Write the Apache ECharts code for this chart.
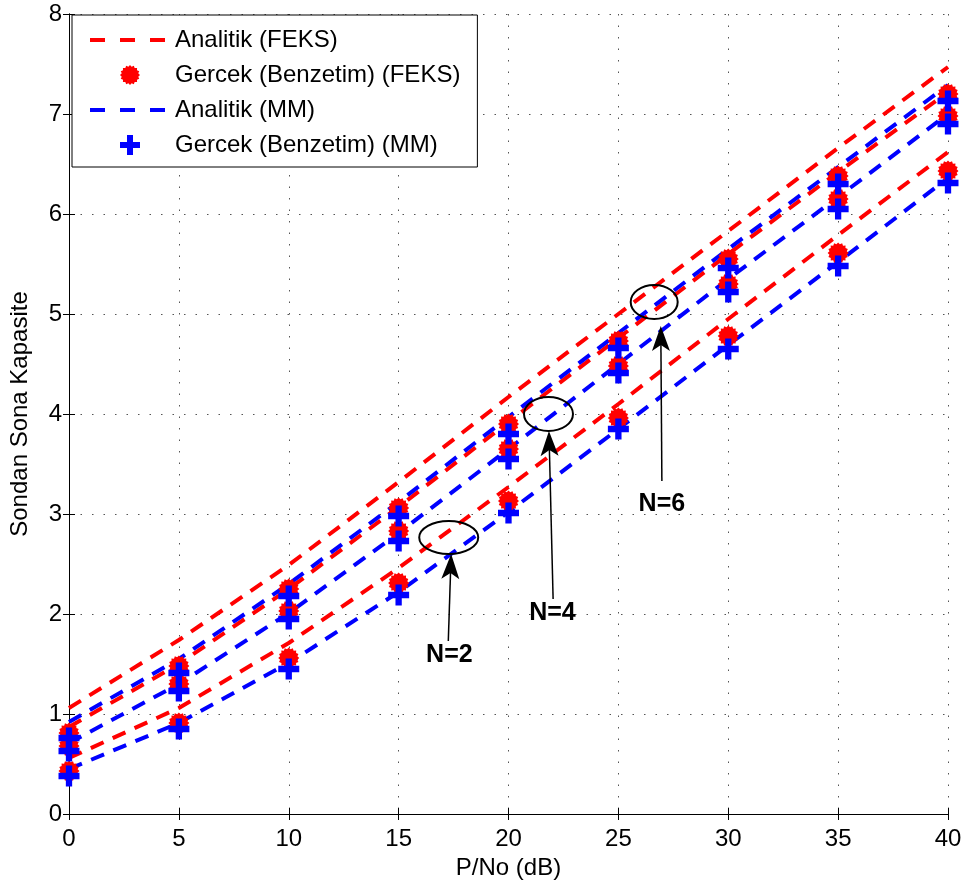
<!DOCTYPE html>
<html><head><meta charset="utf-8">
<script src="https://cdn.jsdelivr.net/npm/echarts@6/dist/echarts.min.js"></script>
<style>html,body{margin:0;padding:0;background:#fff}#c{width:966px;height:886px}</style>
</head><body><div id="c"></div>
<script>
// ---------- data ----------
const xValues = [0, 5, 10, 15, 20, 25, 30, 35, 40];

// Analytic curves
const feksAnalyticN6 = [1.06, 1.74, 2.49, 3.32, 4.17, 5.00, 5.83, 6.66, 7.47];
const feksAnalyticN4 = [0.87, 1.50, 2.25, 3.07, 3.92, 4.76, 5.60, 6.42, 7.22];
const feksAnalyticN2 = [0.56, 1.06, 1.71, 2.46, 3.27, 4.10, 4.95, 5.79, 6.62];
const mmAnalyticN6   = [0.92, 1.55, 2.30, 3.12, 3.97, 4.81, 5.65, 6.47, 7.29];
const mmAnalyticN4   = [0.71, 1.30, 2.01, 2.81, 3.65, 4.50, 5.35, 6.17, 7.00];
const mmAnalyticN2   = [0.45, 0.91, 1.51, 2.22, 3.02, 3.85, 4.69, 5.52, 6.36];

// Simulation points
const feksSimA = [0.81, 1.48, 2.25, 3.06, 3.90, 4.73, 5.55, 6.38, 7.20];
const feksSimB = [0.68, 1.30, 2.03, 2.83, 3.65, 4.48, 5.30, 6.15, 6.98];
const feksSimC = [0.43, 0.91, 1.56, 2.31, 3.13, 3.96, 4.78, 5.61, 6.43];
const mmSimA   = [0.76, 1.41, 2.18, 2.98, 3.80, 4.66, 5.46, 6.30, 7.13];
const mmSimB   = [0.63, 1.23, 1.95, 2.73, 3.55, 4.41, 5.22, 6.05, 6.90];
const mmSimC   = [0.38, 0.85, 1.45, 2.19, 3.01, 3.85, 4.65, 5.48, 6.31];

const legendNames = ['Analitik (FEKS)', 'Gercek (Benzetim) (FEKS)', 'Analitik (MM)', 'Gercek (Benzetim) (MM)'];
const xTicks = [0, 5, 10, 15, 20, 25, 30, 35, 40];
const yTicks = [0, 1, 2, 3, 4, 5, 6, 7, 8];

// Annotations (data coordinates)
const annotations = [
  { label: 'N=2', ellipse: [17.28, 2.765], tip: [17.39, 2.60], tail: [17.26, 1.73], text: [17.31, 1.585], rx: 29.5, ry: 16.5 },
  { label: 'N=4', ellipse: [21.82, 4.00], tip: [21.84, 3.83], tail: [22.03, 2.15], text: [22.00, 2.005], rx: 24.5, ry: 17 },
  { label: 'N=6', ellipse: [26.63, 5.12], tip: [26.93, 4.88], tail: [26.98, 3.33], text: [26.98, 3.10], rx: 23.5, ry: 17 }
];

// ---------- styles ----------
const RED = '#ff0000', BLUE = '#0000ff';
function starPath(n, rOut, rIn) {
  let s = '';
  for (let i = 0; i < 2 * n; i++) {
    const r = i % 2 === 0 ? rOut : rIn;
    const a = Math.PI * i / n - Math.PI / 2;
    s += (i === 0 ? 'M' : 'L') + (50 + r * Math.cos(a)).toFixed(2) + ' ' + (50 + r * Math.sin(a)).toFixed(2) + ' ';
  }
  return 'path://' + s + 'Z';
}
const spikyCircle = starPath(16, 50, 42);
const plusPath = 'path://M35 0 L65 0 L65 35 L100 35 L100 65 L65 65 L65 100 L35 100 L35 65 L0 65 L0 35 L35 35 Z';

function pairs(ys) { return xValues.map((x, i) => [x, ys[i]]); }
function lineSeries(name, color, ys) {
  return {
    name, type: 'line', data: pairs(ys), symbol: 'none', showSymbol: false,
    lineStyle: { color, width: 4, type: [14, 10], cap: 'butt' }, itemStyle: { color },
    animation: false, z: 2
  };
}
function scatterSeries(name, color, symbol, size, ys) {
  return {
    name, type: 'scatter', data: pairs(ys), symbol, symbolSize: size,
    itemStyle: { color, opacity: 1 }, animation: false, z: 3
  };
}

const chart = echarts.init(document.getElementById('c'), null, { renderer: 'canvas' });
const FONT = 'Liberation Sans, Arial, Helvetica, sans-serif';
const axisCommon = {
  min: 0, axisLine: { show: true, lineStyle: { color: '#000', width: 1 } },
  axisTick: { show: true, inside: true, length: 6, lineStyle: { color: '#000' } },
  splitLine: { show: false }
};

chart.setOption({
  backgroundColor: '#fff',
  animation: false,
  grid: { left: 67, right: 18, top: 14, bottom: 72, containLabel: false },
  legend: {
    data: [
      { name: legendNames[0], itemStyle: { opacity: 0 } },
      { name: legendNames[1] },
      { name: legendNames[2], itemStyle: { opacity: 0 } },
      { name: legendNames[3] }
    ],
    orient: 'vertical', left: 72, top: 15,
    padding: [13, 17, 10, 16], itemWidth: 80, itemHeight: 20, itemGap: 11,
    borderColor: '#000', borderWidth: 1, backgroundColor: '#fff',
    textStyle: { fontFamily: FONT, fontSize: 24, color: '#000', lineHeight: 24 },
    lineStyle: { type: [15, 15], width: 4 },
    selectedMode: false
  },
  xAxis: [
    Object.assign({}, axisCommon, {
      type: 'value', max: 40, interval: 5, position: 'bottom',
      name: 'P/No (dB)', nameLocation: 'middle', nameGap: 38,
      nameTextStyle: { fontFamily: FONT, fontSize: 24, color: '#000' },
      axisLabel: { fontFamily: FONT, fontSize: 24, color: '#000', margin: 13 },
      splitLine: { show: true, lineStyle: { color: '#555', width: 1, type: [1.5, 10] } }
    }),
    Object.assign({}, axisCommon, {
      type: 'value', max: 40, interval: 5, position: 'top', axisLabel: { show: false }
    })
  ],
  yAxis: [
    Object.assign({}, axisCommon, {
      type: 'value', max: 8, interval: 1, position: 'left',
      name: 'Sondan Sona Kapasite', nameLocation: 'middle', nameGap: 37,
      nameTextStyle: { fontFamily: FONT, fontSize: 24, color: '#000' },
      axisLabel: { fontFamily: FONT, fontSize: 24, color: '#000', margin: 7 },
      splitLine: { show: true, lineStyle: { color: '#555', width: 1, type: [1.5, 10] } }
    }),
    Object.assign({}, axisCommon, {
      type: 'value', max: 8, interval: 1, position: 'right', axisLabel: { show: false }
    })
  ],
  series: [
    lineSeries(legendNames[0], RED, feksAnalyticN6),
    lineSeries(legendNames[0], RED, feksAnalyticN4),
    lineSeries(legendNames[0], RED, feksAnalyticN2),
    scatterSeries(legendNames[1], RED, spikyCircle, 21, feksSimA),
    scatterSeries(legendNames[1], RED, spikyCircle, 21, feksSimB),
    scatterSeries(legendNames[1], RED, spikyCircle, 21, feksSimC),
    lineSeries(legendNames[2], BLUE, mmAnalyticN6),
    lineSeries(legendNames[2], BLUE, mmAnalyticN4),
    lineSeries(legendNames[2], BLUE, mmAnalyticN2),
    scatterSeries(legendNames[3], BLUE, plusPath, 21, mmSimA),
    scatterSeries(legendNames[3], BLUE, plusPath, 21, mmSimB),
    scatterSeries(legendNames[3], BLUE, plusPath, 21, mmSimC)
  ]
});

// annotation graphics
const graphics = [];
annotations.forEach(a => {
  const c = chart.convertToPixel({ gridIndex: 0 }, a.ellipse);
  const tip = chart.convertToPixel({ gridIndex: 0 }, a.tip);
  const tail = chart.convertToPixel({ gridIndex: 0 }, a.tail);
  const t = chart.convertToPixel({ gridIndex: 0 }, a.text);
  graphics.push({ type: 'ellipse', shape: { cx: c[0], cy: c[1], rx: a.rx, ry: a.ry },
    style: { fill: 'none', stroke: '#000', lineWidth: 2 }, z: 10 });
  const dx = tip[0] - tail[0], dy = tip[1] - tail[1];
  const len = Math.sqrt(dx * dx + dy * dy), ux = dx / len, uy = dy / len;
  const px = -uy, py = ux;
  const L = 25, W = 9, N = 6;
  const baseX = tip[0] - ux * L, baseY = tip[1] - uy * L;
  const notchX = tip[0] - ux * (L - N), notchY = tip[1] - uy * (L - N);
  graphics.push({ type: 'line', shape: { x1: tail[0], y1: tail[1], x2: notchX, y2: notchY },
    style: { stroke: '#000', lineWidth: 1.5 }, z: 10 });
  graphics.push({ type: 'polygon', shape: { points: [
      [tip[0], tip[1]], [baseX + px * W, baseY + py * W], [notchX, notchY], [baseX - px * W, baseY - py * W]] },
    style: { fill: '#000' }, z: 10 });
  graphics.push({ type: 'text', x: t[0], y: t[1], style: { text: a.label, fontFamily: FONT, fontSize: 25,
    fontWeight: 'bold', fill: '#000', textAlign: 'center', textVerticalAlign: 'middle' }, z: 10 });
});
chart.setOption({ graphic: graphics });
</script>
</body></html>
